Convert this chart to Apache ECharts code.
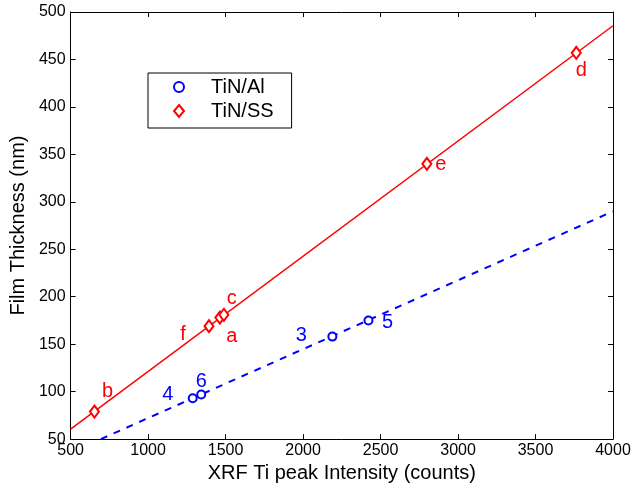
<!DOCTYPE html>
<html>
<head>
<meta charset="utf-8">
<script src="https://cdn.jsdelivr.net/npm/echarts@6/dist/echarts.min.js"></script>
<style>
  html, body { margin: 0; padding: 0; background: #fff; }
  #chart { width: 634px; height: 488px; }
</style>
</head>
<body>
<div id="chart"></div>
<script>
// XRF Ti peak intensity (counts) vs. film thickness (nm)
const alIntensity = [1288, 1343, 2189, 2422];
const alThickness = [93, 97, 158, 175];
const alNames = ['4', '6', '3', '5'];

const ssIntensity = [654, 1393, 1463, 1489, 2799, 3763];
const ssThickness = [79, 169, 178, 181, 340, 457];
const ssNames = ['b', 'f', 'a', 'c', 'e', 'd'];

// Linear fit end points [intensity, thickness]
const alFitX = [695, 4000];
const alFitY = [50, 290];
const ssFitX = [500, 4000];
const ssFitY = [60.5, 485.5];

const xTicks = [500, 1000, 1500, 2000, 2500, 3000, 3500, 4000];
const yTicks = [50, 100, 150, 200, 250, 300, 350, 400, 450, 500];

// label placement next to each marker (pixels)
const alLabelOffset = [[-25, -4], [0, -13], [-31, -1], [19, 2]];
const ssLabelOffset = [[13, -20], [-26, 8], [12, 19], [8, -16], [14, 1], [5, 18]];

const FONT = 'Liberation Sans, Arial, sans-serif';
const BLUE = '#0000ff';
const RED = '#ff0000';

function points(xs, ys, names, offsets) {
  return xs.map((x, i) => ({
    value: [x, ys[i]],
    name: names[i],
    label: { offset: offsets[i] }
  }));
}
function pairs(xs, ys) { return xs.map((x, i) => [x, ys[i]]); }

const pointLabel = (color) => ({
  show: true,
  position: 'inside',
  formatter: (p) => p.name,
  color: color,
  fontFamily: FONT,
  fontSize: 20
});

const frameAxis = (extra) => Object.assign({
  type: 'value',
  axisLine: { show: true, lineStyle: { color: '#000', width: 1 } },
  axisTick: { show: true, inside: true, length: 5, lineStyle: { color: '#000' } },
  splitLine: { show: false }
}, extra);

const chart = echarts.init(document.getElementById('chart'), null, { renderer: 'canvas' });
chart.setOption({
  animation: false,
  backgroundColor: '#fff',
  grid: { left: 68, right: 21, top: 12, bottom: 47, containLabel: false },
  legend: {
    data: [
      { name: 'TiN/Al', icon: 'emptyCircle' },
      { name: 'TiN/SS', icon: 'emptyDiamond' }
    ],
    orient: 'vertical',
    left: 148,
    top: 73,
    padding: [4, 18, 7, 25],
    itemGap: 4,
    itemWidth: 10,
    itemHeight: 12,
    borderColor: '#000',
    borderWidth: 1,
    backgroundColor: '#fff',
    selectedMode: false,
    formatter: (n) => '{t|' + n + '}',
    textStyle: {
      fontFamily: FONT, fontSize: 20, color: '#000',
      rich: { t: { fontFamily: FONT, fontSize: 20, color: '#000', padding: [0, 0, 0, 22], lineHeight: 22 } }
    }
  },
  xAxis: [
    frameAxis({
      position: 'bottom',
      min: xTicks[0], max: xTicks[xTicks.length - 1], interval: 500,
      name: 'XRF Ti peak Intensity (counts)',
      nameLocation: 'middle', nameGap: 19,
      nameTextStyle: { fontFamily: FONT, fontSize: 20, color: '#000' },
      axisLabel: { fontFamily: FONT, fontSize: 16, color: '#000', margin: 3, formatter: (v) => String(v) }
    }),
    frameAxis({
      position: 'top',
      min: xTicks[0], max: xTicks[xTicks.length - 1], interval: 500,
      axisLabel: { show: false }
    })
  ],
  yAxis: [
    frameAxis({
      position: 'left',
      min: yTicks[0], max: yTicks[yTicks.length - 1], interval: 50,
      name: 'Film Thickness (nm)',
      nameLocation: 'middle', nameGap: 35,
      nameTextStyle: { fontFamily: FONT, fontSize: 20, color: '#000' },
      axisLabel: { fontFamily: FONT, fontSize: 16, color: '#000', margin: 5, formatter: (v) => String(v) }
    }),
    frameAxis({
      position: 'right',
      min: yTicks[0], max: yTicks[yTicks.length - 1], interval: 50,
      axisLabel: { show: false }
    })
  ],
  series: [
    {
      name: 'TiN/SS fit', type: 'line', silent: true, symbol: 'none',
      data: pairs(ssFitX, ssFitY),
      lineStyle: { color: RED, width: 1.5 }, z: 1
    },
    {
      name: 'TiN/Al fit', type: 'line', silent: true, symbol: 'none',
      data: pairs(alFitX, alFitY),
      lineStyle: { color: BLUE, width: 2, type: [7, 7] }, z: 1
    },
    {
      name: 'TiN/Al', type: 'scatter', symbol: 'emptyCircle', symbolSize: 8,
      data: points(alIntensity, alThickness, alNames, alLabelOffset),
      itemStyle: { color: BLUE, borderColor: BLUE, borderWidth: 2, opacity: 1 },
      label: pointLabel(BLUE), z: 3
    },
    {
      name: 'TiN/SS', type: 'scatter', symbol: 'emptyDiamond', symbolSize: [9, 12],
      data: points(ssIntensity, ssThickness, ssNames, ssLabelOffset),
      itemStyle: { color: RED, borderColor: RED, borderWidth: 2, opacity: 1 },
      label: pointLabel(RED), z: 3
    }
  ]
});
</script>
</body>
</html>
